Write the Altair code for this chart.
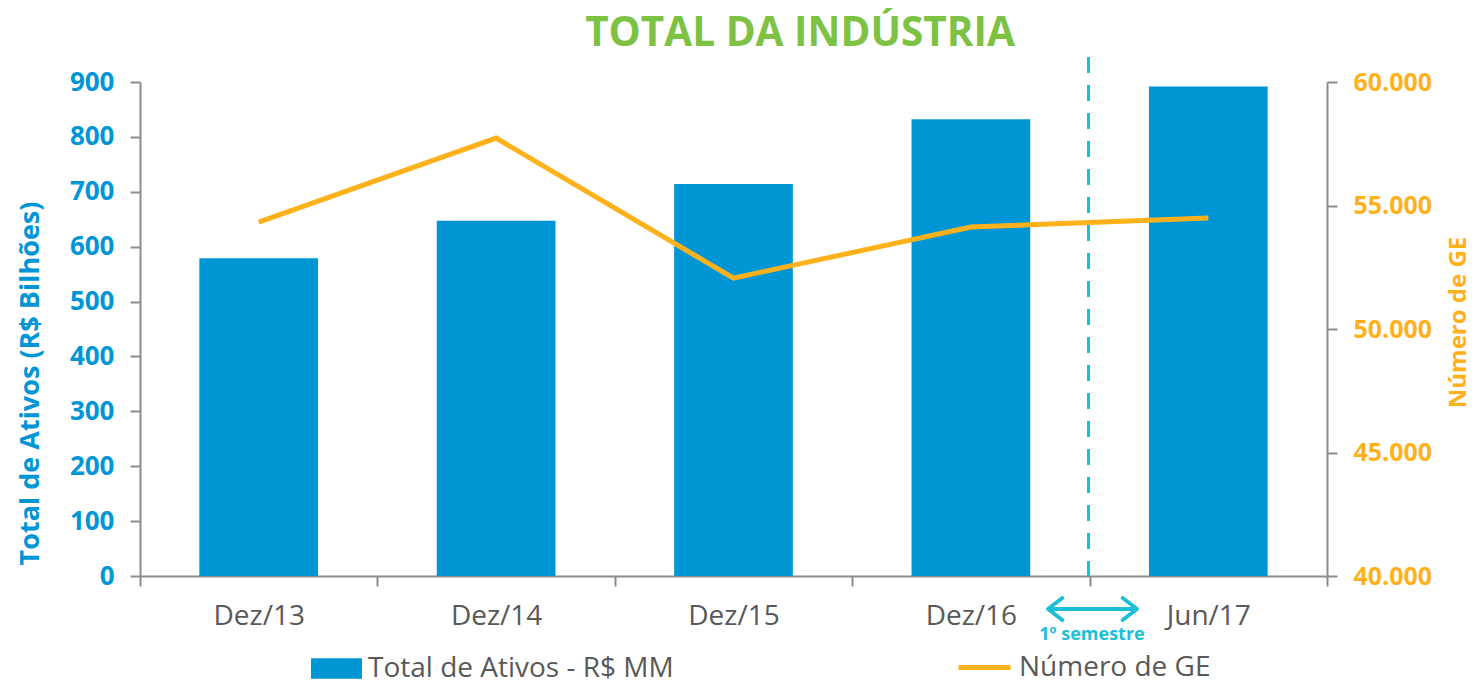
import altair as alt
import pandas as pd

# ---- data ----
categorias = ["Dez/13", "Dez/14", "Dez/15", "Dez/16", "Jun/17"]
total_ativos = [579, 647, 714, 832, 892]
numero_ge = [54330, 57730, 52060, 54130, 54490]
serie_barras = "Total de Ativos - R$ MM"
serie_linha = "Número de GE"
titulo = "TOTAL DA INDÚSTRIA"
anotacao = "1º semestre"
ticks_esq = [0, 100, 200, 300, 400, 500, 600, 700, 800, 900]
ticks_dir = [40000, 45000, 50000, 55000, 60000]

BLUE = "#0096D6"
ORANGE = "#FFB11B"
GREEN = "#7DC242"
CYAN = "#1DBFD6"
GRAY = "#595959"
AXIS = "#8C8C8C"
FONT = "Open Sans"

df = pd.DataFrame({"cat": categorias, "ativos": total_ativos, "ge": numero_ge,
                   "s1": serie_barras, "s2": serie_linha})

W, H = 1187, 494

x = alt.X("cat:N", sort=categorias, title=None,
          scale=alt.Scale(paddingInner=0, paddingOuter=0),
          axis=alt.Axis(tickBand="extent", labelAngle=0, labelFontSize=28, labelColor=GRAY,
                        labelFont=FONT, tickSize=10, labelPadding=16, domainColor=AXIS,
                        tickColor=AXIS, domainWidth=2, tickWidth=2, grid=False))

bars = alt.Chart(df).mark_bar(width=alt.RelativeBandSize(0.5)).encode(
    x=x,
    y=alt.Y("ativos:Q", scale=alt.Scale(domain=[0, 900], nice=False),
            axis=alt.Axis(values=ticks_esq, title="Total de Ativos (R$ Bilhões)", grid=False,
                          labelFontSize=26, labelFontWeight="bold", labelColor=BLUE, labelFont=FONT,
                          tickSize=10, labelPadding=16, domainColor=AXIS, tickColor=AXIS,
                          domainWidth=2, tickWidth=2,
                          titleFontSize=27, titleFont=FONT, titleColor=BLUE, titleFontWeight="bold",
                          titleAngle=270, titleX=-110, titleY=301, titleAlign="center",
                          titleBaseline="middle")),
    fill=alt.Fill("s1:N", scale=alt.Scale(range=[BLUE]),
                  legend=alt.Legend(title=None, orient="none", legendX=171, legendY=561,
                                    symbolType="M-1,-0.4H1V0.4H-1Z", symbolSize=2601,
                                    symbolStrokeWidth=0, symbolOpacity=1,
                                    labelFontSize=28, labelColor=GRAY, labelFont=FONT,
                                    labelOffset=6, labelLimit=0, padding=0)),
)

line = alt.Chart(df).mark_line(strokeWidth=5).encode(
    x=x,
    y=alt.Y("ge:Q", scale=alt.Scale(domain=[40000, 60000], nice=False),
            axis=alt.Axis(orient="right", values=ticks_dir, title=serie_linha, grid=False,
                          labelExpr="replace(format(datum.value, ',.0f'), ',', '.')",
                          labelFontSize=25, labelFontWeight="bold", labelColor=ORANGE, labelFont=FONT,
                          tickSize=10, labelPadding=16, domainColor=AXIS, tickColor=AXIS,
                          domainWidth=2, tickWidth=2,
                          titleFontSize=24, titleFont=FONT, titleColor=ORANGE, titleFontWeight="bold",
                          titleAngle=270, titleX=131, titleY=240, titleAlign="center",
                          titleBaseline="middle")),
    stroke=alt.Stroke("s2:N", scale=alt.Scale(range=[ORANGE]),
                      legend=alt.Legend(title=None, orient="none", legendX=816, legendY=557,
                                        symbolType="stroke", symbolSize=2704,
                                        symbolStrokeWidth=5,
                                        labelFontSize=28, labelColor=GRAY, labelFont=FONT,
                                        labelOffset=6, labelLimit=0, padding=0)),
)

ann = pd.DataFrame({"t": [titulo]})
title_mark = alt.Chart(ann).mark_text(font=FONT, fontSize=40.5, fontWeight="bold", color=GREEN,
                                      align="center", baseline="middle").encode(
    text="t:N", x=alt.value(660), y=alt.value(-48))

divisor = alt.Chart(ann).mark_rule(color=CYAN, strokeWidth=3, strokeDash=[16, 12]).encode(
    x=alt.value(948.5), y=alt.value(-25), y2=alt.value(H))

seta = alt.Chart(ann).mark_rule(color=CYAN, strokeWidth=4, strokeCap="round").encode(
    x=alt.value(910), x2=alt.value(995), y=alt.value(527))
ponta_esq = alt.Chart(ann).mark_point(shape="M1.3,-1L0,0L1.3,1", size=484, filled=False,
                                      color=CYAN, strokeWidth=4, opacity=1,
                                      strokeCap="round", strokeJoin="round").encode(
    x=alt.value(908), y=alt.value(527))
ponta_dir = alt.Chart(ann).mark_point(shape="M-1.3,-1L0,0L-1.3,1", size=484, filled=False,
                                      color=CYAN, strokeWidth=4, opacity=1,
                                      strokeCap="round", strokeJoin="round").encode(
    x=alt.value(997), y=alt.value(527))
texto_sem = alt.Chart(pd.DataFrame({"t": [anotacao]})).mark_text(
    font=FONT, fontSize=18, fontWeight="bold", color=CYAN, align="center", baseline="middle").encode(
    text="t:N", x=alt.value(952), y=alt.value(553))

chart = alt.layer(bars, line, title_mark, divisor, seta, ponta_esq, ponta_dir, texto_sem).resolve_scale(
    y="independent").properties(
    width=W, height=H, autosize="none",
    padding={"left": 132, "top": 74, "right": 145, "bottom": 107},
).configure_view(stroke=None)

chart.save("out.html", embed_options={"renderer": "svg", "actions": False})
